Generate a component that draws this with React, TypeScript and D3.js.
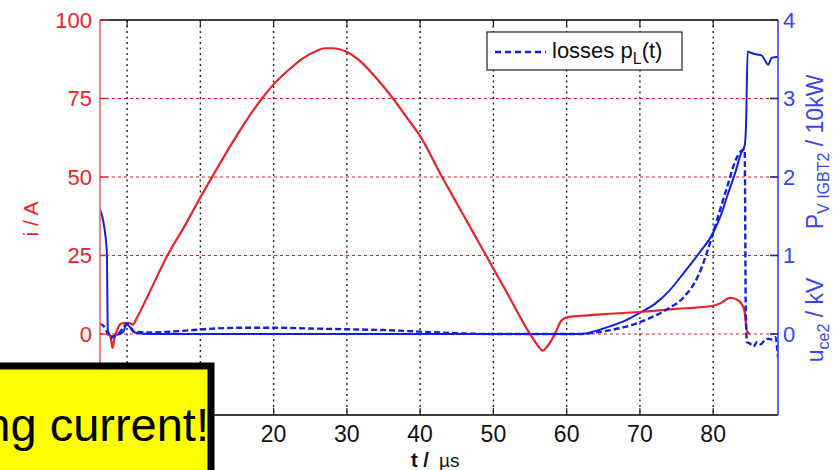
import React from "react";
import * as d3 from "d3";

const xTicks = [0, 10, 20, 30, 40, 50, 60, 70, 80];
const xTickLabels = ["0", "10", "20", "30", "40", "50", "60", "70", "80"];
const leftTicks = [0, 25, 50, 75, 100];
const rightTicks = [0, 1, 2, 3, 4];
const redGrid = [0, 25, 50, 75];

// current i(t) in A (left axis)
const currentT = [-2.8, -2.5, -2.2, -2.0, -1.7, -1.3, -1.0, -0.5, 0.3, 0.8, 1.3, 3, 5.5, 8, 10, 11.6, 14, 16, 18.4, 20, 22, 24, 26, 27, 28, 30, 32, 34, 36.3, 38, 40, 43, 46, 49, 52, 55, 56, 56.7, 57.5, 58.4, 59.2, 60, 62, 65, 70, 75, 78, 80, 81, 82.3, 83.2, 83.9, 84.3, 84.6, 85];
const currentI = [0.5, 0, -1.5, -4.5, -1, 1.5, 3, 3.5, 3.5, 3, 5, 13, 25, 35, 43.5, 50, 59.5, 67, 75, 79.5, 84, 87.8, 90.3, 91, 91, 89.8, 86.5, 81.5, 75, 69.5, 63, 50, 37.5, 25, 12.5, 0, -3.5, -5.3, -3.5, 0, 4, 5.3, 5.8, 6.3, 7, 8, 8.5, 9, 9.8, 11.5, 11, 9.5, 7, 1, 0];

// collector-emitter voltage u_ce2 in kV (right axis)
const voltageT = [-3.7, -3.4, -3.1, -2.85, -2.75, -2.65, -2.3, -2.0, -1.5, -1.0, -0.5, -0.1, 0.3, 0.8, 1.5, 3, 62, 64, 66, 68, 70, 72, 74, 76, 78, 80, 81, 82, 83, 83.8, 84.3, 84.5, 84.7, 85.2, 86, 86.6, 87.0, 87.5, 88.0, 88.85];
const voltageU = [1.58, 1.5, 1.35, 1.15, 1.0, 0.05, -0.02, -0.03, -0.01, 0, 0.03, 0.12, 0.1, 0.03, 0.01, 0, 0, 0.04, 0.1, 0.17, 0.27, 0.38, 0.55, 0.78, 1.02, 1.29, 1.5, 1.78, 2.05, 2.3, 2.4, 2.7, 3.6, 3.58, 3.56, 3.55, 3.5, 3.43, 3.52, 3.53];

// losses p_L(t) in 10 kW (right axis)
const lossT = [-3.7, -3.2, -2.7, -2.2, -1.6, -1.0, -0.4, 0, 0.5, 1, 3, 6, 9, 12, 16, 20, 25, 30, 35, 40, 45, 50, 62, 64, 66, 68, 70, 72, 74, 76, 78, 80, 81, 82, 83, 83.8, 84.3, 84.45, 84.6, 85, 85.5, 86, 86.5, 87, 87.5, 88, 88.5, 88.85];
const lossP = [0.13, 0.1, 0.02, -0.05, -0.02, 0.02, 0.1, 0.13, 0.08, 0.03, 0.02, 0.03, 0.05, 0.07, 0.08, 0.08, 0.07, 0.06, 0.05, 0.03, 0.01, 0, 0, 0.02, 0.05, 0.09, 0.15, 0.23, 0.33, 0.47, 0.75, 1.29, 1.6, 1.9, 2.2, 2.33, 2.35, 0.3, -0.1, -0.12, -0.16, -0.1, -0.13, -0.08, -0.06, -0.07, -0.04, -0.3];

const W = 838;
const H = 470;
const L = 100, R = 778, T = 20, B = 415;
const BOX_RIGHT = 211;
const RED = "#e8232b";
const BLUE = "#1420e0";
const AXBLUE = "#3a46f0";
const FONT = "'Liberation Sans', Arial, sans-serif";

export default function App() {
  const x = d3.scaleLinear().domain([-3.7, 88.85]).range([L, R]);
  const yL = d3.scaleLinear().domain([-25.8, 100]).range([B, T]);
  const yR = d3.scaleLinear().domain([-1.032, 4]).range([B, T]);

  const lineL = d3.line<[number, number]>().x((d) => x(d[0])).y((d) => yL(d[1])).curve(d3.curveMonotoneX);
  const lineR = d3.line<[number, number]>().x((d) => x(d[0])).y((d) => yR(d[1])).curve(d3.curveMonotoneX);

  const cur = currentT.map((t, i) => [t, currentI[i]] as [number, number]);
  const volt = voltageT.map((t, i) => [t, voltageU[i]] as [number, number]);
  const loss = lossT.map((t, i) => [t, lossP[i]] as [number, number]);

  return (
    <svg width={W} height={H} style={{ position: "absolute", left: 0, top: 0, display: "block", background: "#fff" }} fontFamily={FONT}>
      <defs>
        <clipPath id="plot">
          <rect x={L} y={T} width={R - L} height={B - T} />
        </clipPath>
      </defs>
      {/* grid */}
      {redGrid.map((v) => (
        <line key={"h" + v} x1={L} x2={R} y1={yL(v)} y2={yL(v)} stroke="#c8242c" strokeWidth={1.1} strokeDasharray="3,3" />
      ))}
      {xTicks.map((v) => (
        <line key={"v" + v} x1={x(v)} x2={x(v)} y1={T} y2={B} stroke="#222" strokeWidth={1.4} strokeDasharray="2,3.5" />
      ))}
      {/* x ticks top & bottom */}
      {xTicks.map((v) => (
        <g key={"xt" + v}>
          <line x1={x(v)} x2={x(v)} y1={T} y2={T + 7} stroke="#222" strokeWidth={1.2} />
          <line x1={x(v)} x2={x(v)} y1={B} y2={B - 7} stroke="#222" strokeWidth={1.2} />
        </g>
      ))}
      {/* curves */}
      <g clipPath="url(#plot)">
        <path d={lineR(volt) || ""} fill="none" stroke={BLUE} strokeWidth={2} />
        <path d={lineL(cur) || ""} fill="none" stroke={RED} strokeWidth={2.2} />
        <path d={lineR(loss) || ""} fill="none" stroke={BLUE} strokeWidth={2.4} strokeDasharray="6,3" />
      </g>
      {/* frame */}
      <line x1={L} x2={R} y1={T} y2={T} stroke="#000" strokeWidth={1.4} />
      <line x1={L} x2={R} y1={B} y2={B} stroke="#000" strokeWidth={1.4} />
      <line x1={L} x2={L} y1={T} y2={B} stroke="#e86a6a" strokeWidth={1.6} />
      <line x1={R} x2={R} y1={T} y2={B} stroke={AXBLUE} strokeWidth={1.6} />
      {/* left ticks */}
      {leftTicks.map((v) => (
        <g key={"lt" + v}>
          <line x1={L} x2={L + 8} y1={yL(v)} y2={yL(v)} stroke={RED} strokeWidth={1.4} />
          <text x={L - 8} y={yL(v) + 8} fontSize={22} fill={RED} textAnchor="end">{v}</text>
        </g>
      ))}
      {/* right ticks */}
      {rightTicks.map((v) => (
        <g key={"rt" + v}>
          <line x1={R - 8} x2={R} y1={yR(v)} y2={yR(v)} stroke="#202080" strokeWidth={1.6} />
          <text x={R + 5} y={yR(v) + 8} fontSize={22} fill={AXBLUE} textAnchor="start">{v}</text>
        </g>
      ))}
      {/* bottom tick labels (those under the annotation box are hidden in the original) */}
      {xTicks.map((v, i) =>
        x(v) - 15 > BOX_RIGHT ? (
          <text key={"xl" + v} x={x(v)} y={442} fontSize={23} fill="#111" textAnchor="middle">{xTickLabels[i]}</text>
        ) : null
      )}
      {/* x label */}
      <text x={411} y={467} fontSize={20} fill="#111" fontWeight="bold">t /</text>
      <text x={439} y={467} fontSize={19} fill="#111">µs</text>
      {/* left label */}
      <text transform={`translate(38,219) rotate(-90)`} fontSize={21} fill={RED} textAnchor="middle">i / A</text>
      {/* right labels */}
      <text transform={`translate(823,320) rotate(-90)`} fontSize={23} fill={AXBLUE} textAnchor="middle">
        u<tspan fontSize={16} dy={6}>ce2</tspan><tspan dy={-6}> / kV</tspan>
      </text>
      <text transform={`translate(823,152) rotate(-90)`} fontSize={23} fill={AXBLUE} textAnchor="middle">
        P<tspan fontSize={16} dy={6}>V IGBT2</tspan><tspan dy={-6}> / 10kW</tspan>
      </text>
      {/* legend */}
      <rect x={487} y={32} width={195} height={38} fill="#fff" stroke="#222" strokeWidth={1.2} />
      <line x1={495} x2={546} y1={52} y2={52} stroke={BLUE} strokeWidth={2.4} strokeDasharray="6,4" />
      <text x={552} y={58} fontSize={22} fill="#111">
        losses p<tspan fontSize={16} dy={6}>L</tspan><tspan dy={-6}>(t)</tspan>
      </text>
      {/* yellow annotation */}
      <rect x={-10} y={366} width={BOX_RIGHT + 10} height={120} fill="#ffff00" stroke="#000" strokeWidth={7} />
      <text x={209} y={441} fontSize={47} fill="#000" textAnchor="end">ng current!</text>
    </svg>
  );
}
